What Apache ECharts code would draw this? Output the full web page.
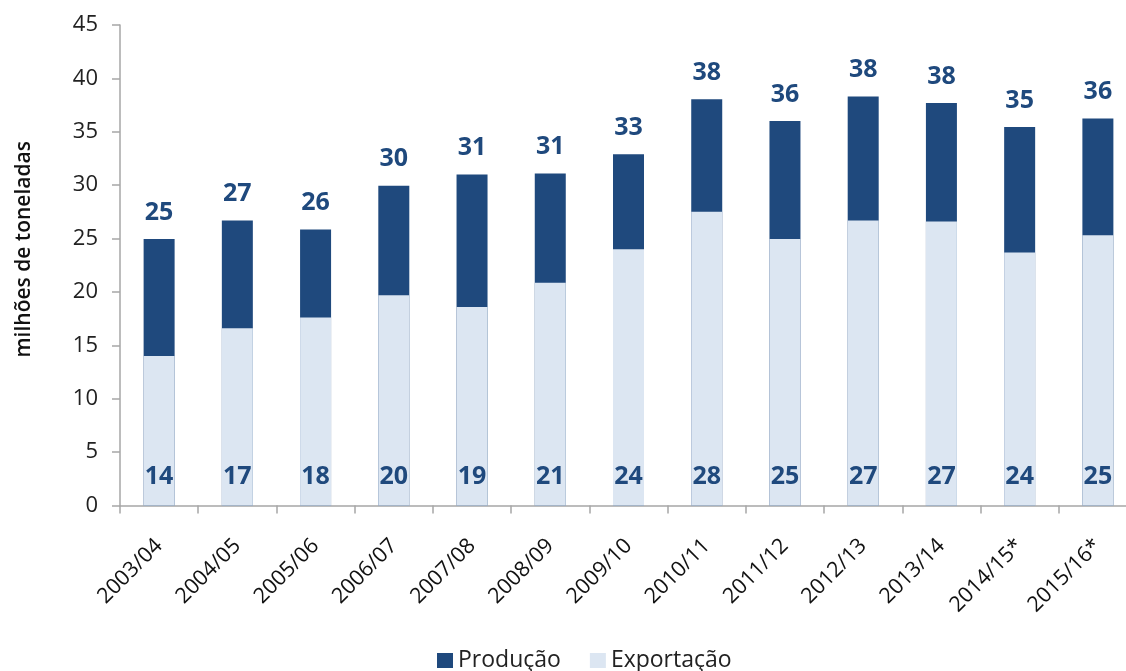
<!DOCTYPE html>
<html>
<head>
<meta charset="utf-8">
<script src="https://cdn.jsdelivr.net/npm/echarts@6/dist/echarts.min.js"></script>
<style>html,body{margin:0;padding:0;background:#fff;}#c{width:1126px;height:671px;}</style>
</head>
<body>
<div id="c"></div>
<script>
const categories = ['2003/04','2004/05','2005/06','2006/07','2007/08','2008/09','2009/10','2010/11','2011/12','2012/13','2013/14','2014/15*','2015/16*'];
const producao = [24.95, 26.7, 25.85, 29.95, 31.0, 31.1, 32.9, 38.05, 36.0, 38.3, 37.7, 35.45, 36.25];
const exportacao = [14.0, 16.6, 17.6, 19.7, 18.6, 20.85, 24.0, 27.5, 24.95, 26.7, 26.6, 23.7, 25.3];
const yTicks = [0, 5, 10, 15, 20, 25, 30, 35, 40, 45];

const FONT = 'Open Sans';
const DARK = '#1f497d';
const LIGHT = '#dce6f2';

const chart = echarts.init(document.getElementById('c'), null, {renderer: 'canvas'});
chart.setOption({
  animation: false,
  backgroundColor: '#ffffff',
  textStyle: {fontFamily: FONT},
  grid: {left: 120, right: -11, top: 25, bottom: 165.5, containLabel: false, outerBoundsMode: 'none'},
  legend: {
    left: 432, top: 644, itemWidth: 16, itemHeight: 15, itemGap: 29, padding: [5, 5, 5, 5],
    icon: 'rect',
    textStyle: {fontFamily: FONT, fontSize: 23, color: '#222'},
    data: ['Produção', 'Exportação']
  },
  xAxis: {
    type: 'category', data: categories,
    axisLine: {lineStyle: {color: '#a6a6a6', width: 1.5}},
    axisTick: {show: true, length: 8, lineStyle: {color: '#a6a6a6', width: 1.5}},
    axisLabel: {rotate: 45, fontFamily: FONT, fontSize: 21.5, color: '#111', margin: 37}
  },
  yAxis: {
    type: 'value', min: yTicks[0], max: yTicks[yTicks.length - 1], interval: 5,
    name: 'milhões de toneladas', nameLocation: 'middle', nameGap: 85, nameRotate: 90,
    nameTextStyle: {fontFamily: FONT, fontSize: 21, fontWeight: 600, color: '#111', padding: [0, 0, 0, 32]},
    axisLine: {show: true, lineStyle: {color: '#a6a6a6', width: 1.5}},
    axisTick: {show: true, length: 8, lineStyle: {color: '#a6a6a6', width: 1.5}},
    splitLine: {show: false},
    axisLabel: {fontFamily: FONT, fontSize: 22, color: '#222', margin: 22}
  },
  series: [
    {
      name: 'Produção', type: 'bar', data: producao, barWidth: 31, barGap: '-100%',
      itemStyle: {color: DARK},
      label: {show: true, position: 'top', distance: 14, fontFamily: FONT, fontSize: 25, fontWeight: 'bold', color: DARK,
        formatter: p => Math.round(p.value)}
    },
    {
      name: 'Exportação', type: 'bar', data: exportacao, barWidth: 31, barGap: '-100%',
      itemStyle: {color: LIGHT},
      label: {show: true, position: 'insideBottom', distance: 16, fontFamily: FONT, fontSize: 25, fontWeight: 'bold', color: DARK,
        formatter: p => Math.round(p.value)}
    }
  ]
});
</script>
</body>
</html>
